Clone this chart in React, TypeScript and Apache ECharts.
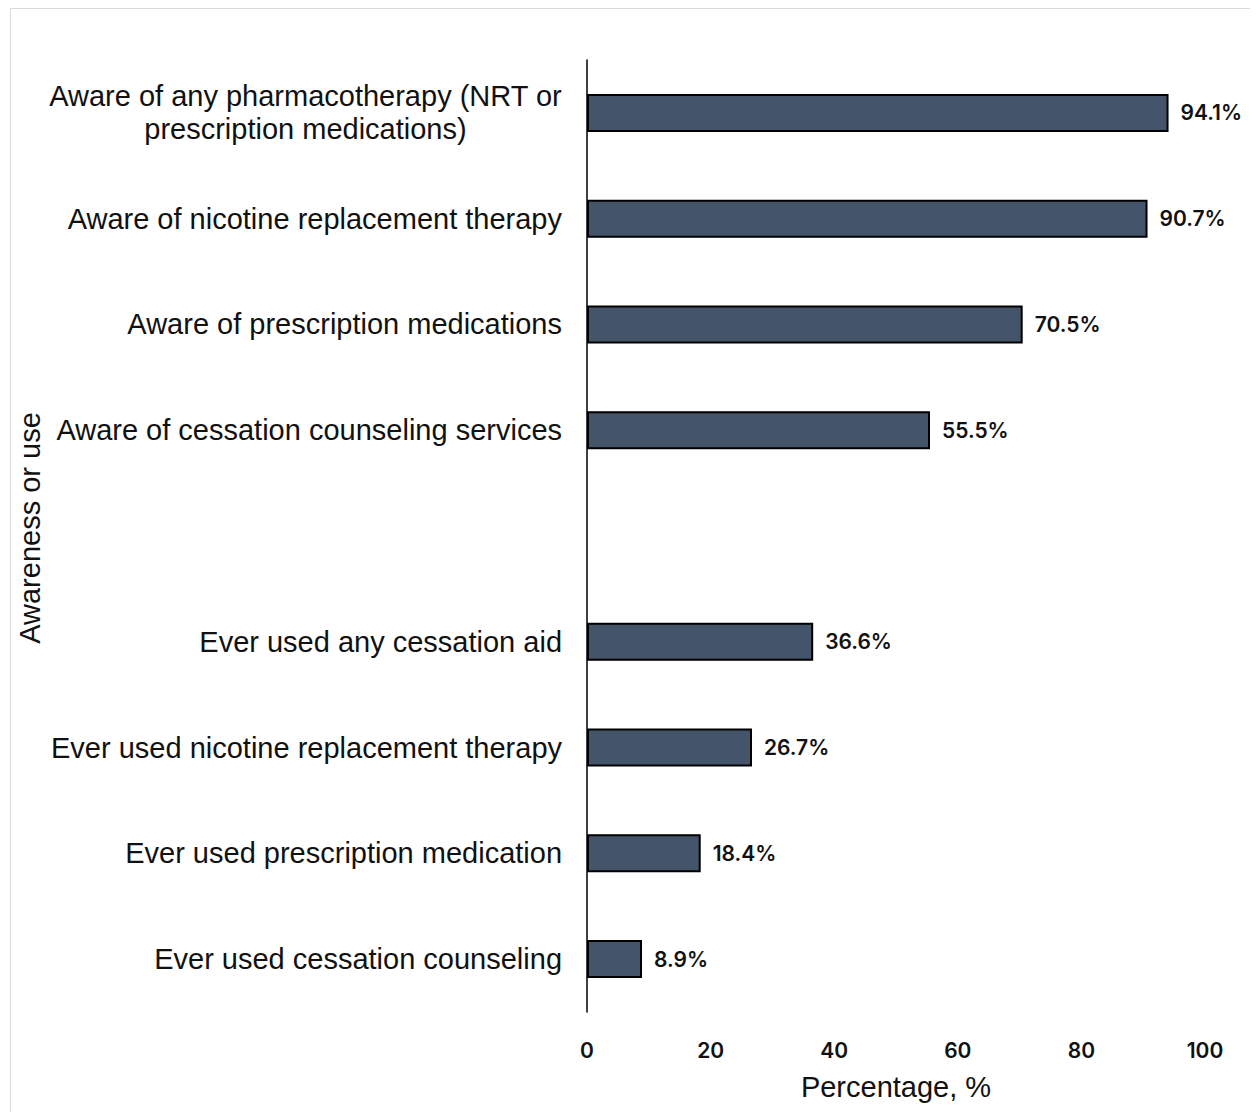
import React, { useEffect, useRef } from "react";
import * as echarts from "echarts";

const categories: string[] = [
  "Aware of any pharmacotherapy (NRT or\nprescription medications)",
  "Aware of nicotine replacement therapy",
  "Aware of prescription medications",
  "Aware of cessation counseling services",
  "",
  "Ever used any cessation aid",
  "Ever used nicotine replacement therapy",
  "Ever used prescription medication",
  "Ever used cessation counseling",
];

const values: (number | null)[] = [94.1, 90.7, 70.5, 55.5, null, 36.6, 26.7, 18.4, 8.9];

const xTicks = { min: 0, max: 100, interval: 20 };

export default function App() {
  const ref = useRef<HTMLDivElement>(null);
  useEffect(() => {
    if (!ref.current) return;
    const chart = echarts.init(ref.current, undefined, { renderer: "svg" });
    chart.setOption({
      animation: false,
      backgroundColor: "#ffffff",
      graphic: [
        {
          type: "rect",
          shape: { x: 2.5, y: 0.5, width: 1400, height: 1300 },
          style: { fill: "none", stroke: "#d9d9d9", lineWidth: 1 },
          silent: true,
        },
      ],
      grid: { left: 579, right: 53, top: 52, bottom: 100, containLabel: false },
      xAxis: {
        type: "value",
        min: xTicks.min,
        max: xTicks.max,
        interval: xTicks.interval,
        splitLine: { show: false },
        axisLine: { show: false },
        axisTick: { show: false },
        axisLabel: {
          margin: 28,
          fontFamily: "Inter",
          fontWeight: 600,
          fontSize: 21,
          color: "#111111",
        },
        name: "Percentage, %",
        nameLocation: "middle",
        nameGap: 60,
        nameTextStyle: {
          fontFamily: "Liberation Sans, Arial",
          fontSize: 29,
          color: "#111111",
        },
      },
      yAxis: {
        type: "category",
        data: categories,
        inverse: true,
        axisLine: { show: true, lineStyle: { color: "#000000", width: 1.5 } },
        axisTick: { show: false },
        axisLabel: {
          margin: 25,
          color: "#111111",
          fontFamily: "Liberation Sans, Arial",
          fontSize: 29,
          lineHeight: 33,
          formatter: (v: string) =>
            v
              .split("\n")
              .map((line) => "{c|" + line + "}")
              .join("\n"),
          rich: {
            c: {
              align: "center",
              fontFamily: "Liberation Sans, Arial",
              fontSize: 29,
              lineHeight: 33,
              color: "#111111",
            },
          },
        },
        name: "Awareness or use",
        nameLocation: "middle",
        nameGap: 543,
        nameRotate: 90,
        nameTextStyle: {
          fontFamily: "Liberation Sans, Arial",
          fontSize: 29,
          color: "#111111",
          padding: [0, 0, 0, 16],
        },
      },
      series: [
        {
          type: "bar",
          data: values.map((v) => (v === null ? "-" : v)),
          barWidth: 38,
          itemStyle: { color: "#44546a", borderColor: "#000000", borderWidth: 2 },
          label: {
            show: true,
            position: "right",
            distance: 12,
            formatter: (p: any) => p.value + "%",
            fontFamily: "Inter",
            fontWeight: 600,
            fontSize: 21,
            color: "#111111",
          },
        },
      ],
    });
    return () => chart.dispose();
  }, []);
  return <div ref={ref} style={{ width: 1250, height: 1104 }} />;
}
